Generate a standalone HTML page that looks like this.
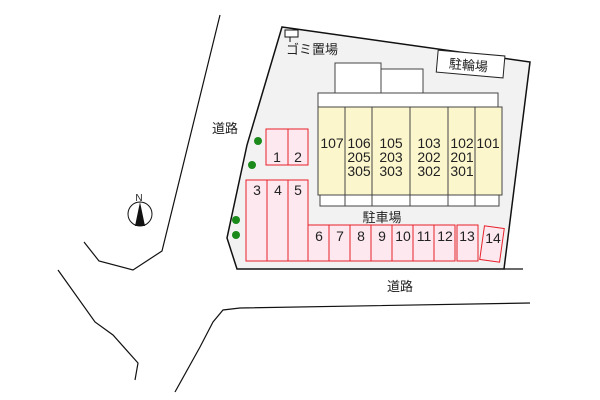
<!DOCTYPE html>
<html><head><meta charset="utf-8"><style>body{margin:0;background:#fff}svg{display:block}text{font-family:"Liberation Sans","Noto Sans CJK JP",sans-serif;fill:#222}</style></head><body>
<svg width="600" height="400" viewBox="0 0 600 400" xmlns="http://www.w3.org/2000/svg">
<g fill="none" stroke="#111" stroke-width="1.2">
<polyline points="220,15 162,251 133,270 99,261 84,242"/>
<polyline points="58,270 95,322 113,335 138,363 135,380"/>
<polyline points="175,392 200,347 213,322 223,310 240,308 530,303"/>
<line x1="504" y1="269" x2="523" y2="269"/>
</g>
<polygon points="282,27 530,62 504,269 237,269 227,238 247,145" fill="#f2f2f2" stroke="#111" stroke-width="1.5"/>
<rect x="285" y="30" width="13" height="7" fill="#fff" stroke="#111"/>
<line x1="290" y1="37" x2="290" y2="42" stroke="#111"/>
<text x="286" y="54" font-size="13">ゴミ置場</text>
<g transform="rotate(5 470 65)"><rect x="437" y="53" width="67" height="22" fill="#fff" stroke="#222"/><text x="449" y="70" font-size="13">駐輪場</text></g>
<rect x="335" y="63" width="46" height="30" fill="#fff" stroke="#444"/>
<rect x="381" y="69" width="42" height="24" fill="#fff" stroke="#444"/>
<rect x="318" y="93" width="180" height="14" fill="#fff" stroke="#444"/>
<rect x="320" y="195" width="179" height="11" fill="#fff" stroke="#444"/>
<rect x="318" y="107" width="184" height="88" fill="#fbf6cc" stroke="#444"/>
<g stroke="#444"><line x1="345" y1="107" x2="345" y2="206"/><line x1="372" y1="107" x2="372" y2="206"/><line x1="410" y1="107" x2="410" y2="206"/><line x1="448" y1="107" x2="448" y2="206"/><line x1="475" y1="107" x2="475" y2="206"/></g>
<g font-size="14" text-anchor="middle">
<text x="332" y="148">107</text>
<text x="359" y="148">106</text><text x="359" y="162">205</text><text x="359" y="176">305</text>
<text x="391" y="148">105</text><text x="391" y="162">203</text><text x="391" y="176">303</text>
<text x="429" y="148">103</text><text x="429" y="162">202</text><text x="429" y="176">302</text>
<text x="462" y="148">102</text><text x="462" y="162">201</text><text x="462" y="176">301</text>
<text x="488" y="148">101</text>
</g>
<g fill="#fde8ef" stroke="#e8202a" stroke-width="1">
<rect x="266" y="129" width="22" height="36"/><rect x="288" y="129" width="20" height="36"/>
<rect x="246" y="180" width="21" height="81"/><rect x="267" y="180" width="21" height="81"/><rect x="288" y="180" width="20" height="81"/>
<rect x="308" y="225" width="21" height="36"/><rect x="329" y="225" width="21" height="36"/><rect x="350" y="225" width="21" height="36"/><rect x="371" y="225" width="21" height="36"/><rect x="392" y="225" width="21" height="36"/><rect x="413" y="225" width="21" height="36"/><rect x="434" y="225" width="21" height="36"/>
<rect x="457" y="225" width="21" height="36"/>
<rect x="482" y="227" width="20" height="34" transform="rotate(8 492 244)"/>
</g>
<g font-size="14" text-anchor="middle">
<text x="277" y="162">1</text><text x="298" y="162">2</text>
<text x="257" y="195">3</text><text x="278" y="195">4</text><text x="298" y="195">5</text>
<text x="319" y="241">6</text><text x="340" y="241">7</text><text x="361" y="241">8</text><text x="382" y="241">9</text><text x="403" y="241">10</text><text x="424" y="241">11</text><text x="445" y="241">12</text><text x="467" y="241">13</text><text x="493" y="243">14</text>
<text x="382" y="222" font-size="13">駐車場</text>
<text x="225" y="133" font-size="13">道路</text>
<text x="400" y="291" font-size="13">道路</text>
</g>
<g fill="#1a8a1a"><circle cx="258" cy="141" r="4"/><circle cx="252" cy="165" r="4"/><circle cx="236" cy="220" r="4"/><circle cx="236" cy="235" r="4"/></g>
<circle cx="140" cy="214" r="12" fill="#fff" stroke="#111"/>
<polygon points="140,202 135,226 145,226" fill="#111"/>
<text x="139" y="201" font-size="10" text-anchor="middle">N</text>
</svg>
</body></html>
